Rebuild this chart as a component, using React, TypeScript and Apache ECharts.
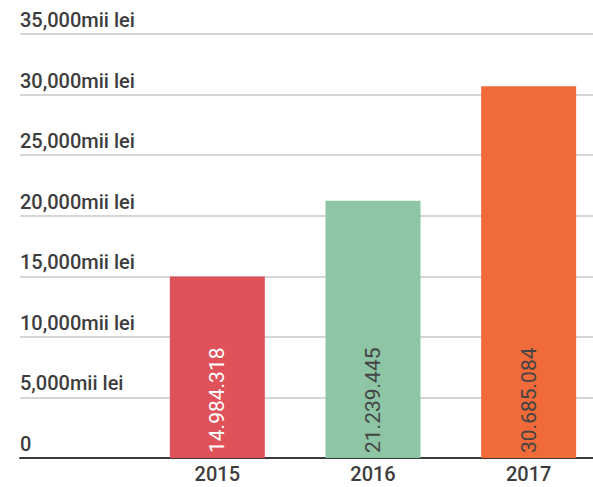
import React, { useEffect, useRef } from "react";
import * as echarts from "echarts";

const categories = ["2015", "2016", "2017"];
const values = [14984.318, 21239.445, 30685.084];
const valueLabels = ["14.984.318", "21.239.445", "30.685.084"];
const barColors = ["#E0525A", "#8DC5A5", "#F06A3A"];
const labelColors = ["#ffffff", "#444444", "#444444"];
const yTicks = [0, 5000, 10000, 15000, 20000, 25000, 30000, 35000];

const W = 593;
const H = 487;
const EXTRA = 30;

export default function App() {
  const ref = useRef<HTMLDivElement>(null);
  useEffect(() => {
    if (!ref.current) return;
    const chart = echarts.init(ref.current, undefined, { renderer: "svg" });
    const fmt = (v: number) =>
      v === 0 ? "0" : v.toLocaleString("en-US") + "mii lei";
    chart.setOption({
      animation: false,
      backgroundColor: "#ffffff",
      textStyle: { fontFamily: "Roboto" },
      grid: [
        { left: 20, right: EXTRA, top: 34, bottom: 29 },
        { left: 139.5, width: 467, top: 34, bottom: 29 },
      ],
      xAxis: [
        {
          gridIndex: 0,
          type: "value",
          min: 0,
          max: 1,
          axisLine: { show: true, lineStyle: { color: "#3a3a3a", width: 2 } },
          axisTick: { show: false },
          axisLabel: { show: false },
          splitLine: { show: false },
        },
        {
          gridIndex: 1,
          type: "category",
          data: categories,
          axisLine: { show: false },
          axisTick: { show: false },
          axisLabel: {
            fontSize: 20,
            fontWeight: 500,
            color: "#3d3d3d",
            margin: 6,
            lineHeight: 20,
          },
        },
      ],
      yAxis: [
        {
          gridIndex: 0,
          type: "value",
          min: yTicks[0],
          max: yTicks[yTicks.length - 1],
          interval: 5000,
          axisLine: { show: false },
          axisTick: { show: false },
          splitLine: { show: true, lineStyle: { color: "#c8c8c8", width: 1.5 } },
          axisLabel: {
            inside: true,
            margin: 0,
            align: "left",
            verticalAlign: "bottom",
            padding: [0, 0, 4, 0],
            fontSize: 20,
            fontWeight: 500,
            color: "#3d3d3d",
            formatter: fmt,
          },
        },
        {
          gridIndex: 1,
          type: "value",
          min: yTicks[0],
          max: yTicks[yTicks.length - 1],
          interval: 5000,
          show: false,
          splitLine: { show: false },
        },
      ],
      series: [
        {
          type: "bar",
          xAxisIndex: 1,
          yAxisIndex: 1,
          barWidth: 95,
          data: values.map((v, i) => ({
            value: v,
            itemStyle: { color: barColors[i] },
            label: {
              show: true,
              position: "insideBottom",
              rotate: 90,
              align: "left",
              verticalAlign: "middle",
              distance: 5,
              fontSize: 21,
              color: labelColors[i],
              formatter: valueLabels[i],
            },
          })),
        },
      ],
    });
    return () => chart.dispose();
  }, []);
  return (
    <div
      style={{
        position: "fixed",
        left: 0,
        top: 0,
        width: W,
        height: H,
        overflow: "hidden",
        background: "#ffffff",
      }}
    >
      <div ref={ref} style={{ width: W + EXTRA, height: H }} />
    </div>
  );
}
